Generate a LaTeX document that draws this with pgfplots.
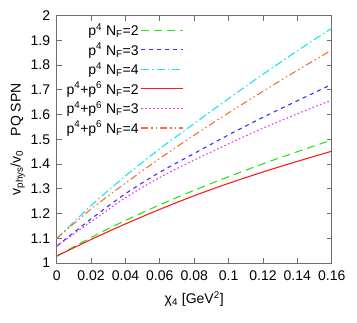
\documentclass[border=0pt]{standalone}
\usepackage{fontspec}
\setmainfont{Liberation Sans}
\usepackage{pgfplots}
\pgfplotsset{compat=1.18}
\definecolor{lgreen}{RGB}{40,230,20}
\definecolor{lblue}{RGB}{50,50,250}
\definecolor{lcyan}{RGB}{20,230,235}
\definecolor{lred}{RGB}{250,30,30}
\definecolor{lmag}{RGB}{240,40,240}
\definecolor{lorange}{RGB}{250,110,50}
\definecolor{border}{RGB}{110,110,110}

\begin{document}
\begin{tikzpicture}[font=\fontsize{14}{16}\selectfont]
\begin{axis}[
    at={(0,0)}, anchor=south west,
    scale only axis,
    width=275pt, height=247.3pt,
    xmin=0, xmax=0.16, ymin=1, ymax=2,
    xtick={0,0.02,...,0.16},
    ytick={1,1.1,...,2},
    scaled x ticks=false,
    /pgf/number format/fixed,
    /pgf/number format/precision=2,
    /pgf/number format/assume math mode=true,
    tick align=inside,
    major tick length=5pt,
    axis line style={draw=border, line width=0.8pt},
    tick style={draw=border, line width=0.8pt},
    tick label style={font=\fontsize{14}{16}\selectfont},
    xticklabel style={yshift=-4pt},
    yticklabel style={xshift=-3pt},
    xlabel={χ\textsubscript{4} [GeV\textsuperscript{2}]},
    ylabel={v\textsubscript{phys}/v\textsubscript{0}\quad PQ SPN},
    xlabel style={yshift=-4pt},
    ylabel style={yshift=-1pt},
    legend plot pos=right,
    legend cell align=right,
    legend style={draw=none, fill=none, at={(0.474,0.985)}, anchor=north east,
        row sep=2pt, font=\fontsize{14}{16}\selectfont},
    legend image code/.code={\draw[line width=1.2pt, #1] (0pt,0pt) -- (42pt,0pt);},
    every axis plot/.append style={line width=1.1pt},
]
\addplot[color=lgreen, dash pattern=on 8pt off 5pt, smooth] coordinates {
    (0,1.028) (0.02,1.103) (0.04,1.172) (0.06,1.235) (0.08,1.294)
    (0.10,1.349) (0.12,1.401) (0.14,1.450) (0.16,1.497)
};
\addlegendentry{p\textsuperscript{4} N\textsubscript{F}=2}

\addplot[color=lblue, dash pattern=on 4pt off 4pt, smooth] coordinates {
    (0,1.068) (0.02,1.178) (0.04,1.280) (0.06,1.367) (0.08,1.443)
    (0.10,1.518) (0.12,1.589) (0.14,1.656) (0.16,1.722)
};
\addlegendentry{p\textsuperscript{4} N\textsubscript{F}=3}

\addplot[color=lcyan, dash pattern=on 8pt off 3pt on 1.5pt off 3pt, smooth] coordinates {
    (0,1.099) (0.02,1.232) (0.04,1.352) (0.06,1.462) (0.08,1.564)
    (0.10,1.665) (0.12,1.763) (0.14,1.858) (0.16,1.949)
};
\addlegendentry{p\textsuperscript{4} N\textsubscript{F}=4}

\addplot[color=lred, smooth] coordinates {
    (0,1.028) (0.02,1.095) (0.04,1.158) (0.06,1.217) (0.08,1.272)
    (0.10,1.322) (0.12,1.368) (0.14,1.411) (0.16,1.452)
};
\addlegendentry{p\textsuperscript{4}+p\textsuperscript{6} N\textsubscript{F}=2}

\addplot[color=lmag, dash pattern=on 1.5pt off 2.5pt, smooth] coordinates {
    (0,1.068) (0.02,1.167) (0.04,1.264) (0.06,1.346) (0.08,1.416)
    (0.10,1.482) (0.12,1.545) (0.14,1.603) (0.16,1.659)
};
\addlegendentry{p\textsuperscript{4}+p\textsuperscript{6} N\textsubscript{F}=3}

\addplot[color=lorange, dash pattern=on 7pt off 3pt on 1.5pt off 3pt on 1.5pt off 3pt, smooth] coordinates {
    (0,1.099) (0.02,1.218) (0.04,1.323) (0.06,1.423) (0.08,1.517)
    (0.10,1.607) (0.12,1.694) (0.14,1.779) (0.16,1.861)
};
\addlegendentry{p\textsuperscript{4}+p\textsuperscript{6} N\textsubscript{F}=4}
\end{axis}
\path (-56.7pt,-60pt) rectangle (300.3pt,263pt);
\end{tikzpicture}
\end{document}
